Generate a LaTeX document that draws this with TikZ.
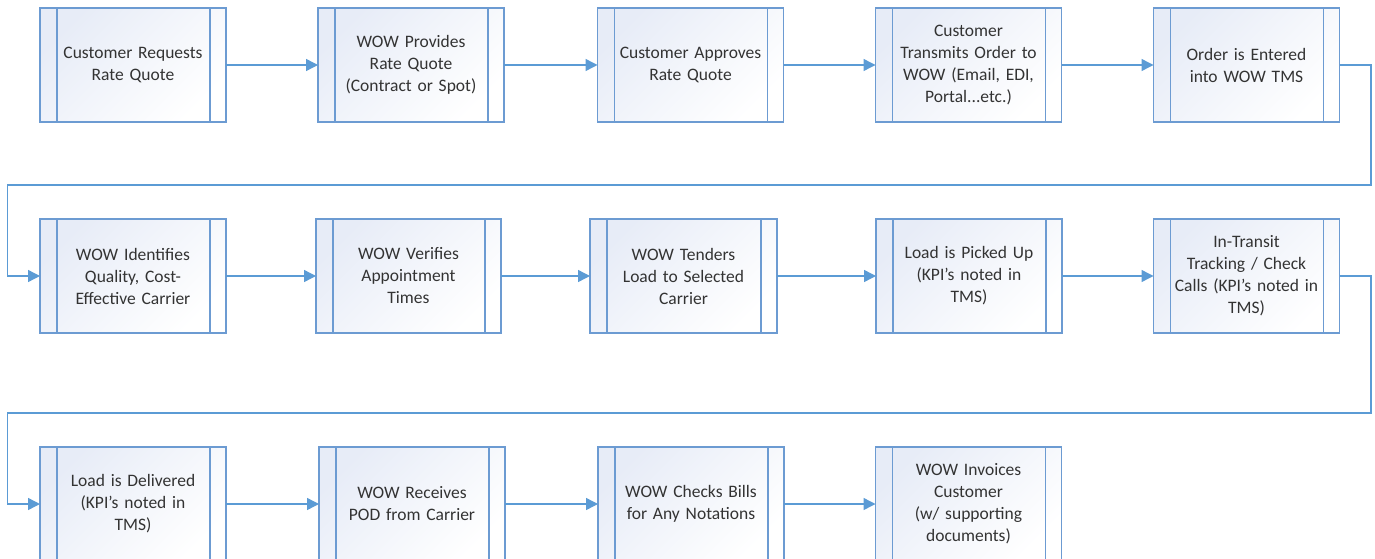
\documentclass[tikz,border=0pt]{standalone}
\usepackage{fontspec}
\setmainfont{Carlito}
\usetikzlibrary{arrows.meta}
\definecolor{boxline}{HTML}{6C9BD2}
\definecolor{arrowc}{HTML}{5B9BD5}
\definecolor{fillc}{HTML}{E7ECF7}
\definecolor{fillm}{HTML}{F8FAFD}
\definecolor{txt}{HTML}{333333}
\tikzset{
  procbox/.style={draw=boxline, line width=1.4pt, minimum width=186pt, minimum height=114pt,
    inner sep=0pt, outer sep=0pt, text width=160pt, align=center, text=txt,
    font=\fontsize{17.5pt}{22pt}\selectfont,
    top color=fillc, middle color=fillm, bottom color=white, shading angle=45,
    path picture={
      \draw[boxline, line width=1.4pt] ([xshift=17pt]path picture bounding box.north west) -- ([xshift=17pt]path picture bounding box.south west);
      \draw[boxline, line width=1.4pt] ([xshift=-16pt]path picture bounding box.north east) -- ([xshift=-16pt]path picture bounding box.south east);
    }},
  flow/.style={draw=arrowc, line width=1.4pt, -{Triangle[length=12pt,width=12pt,fill=arrowc]}}
}
\begin{document}
\begin{tikzpicture}[x=1pt,y=-1pt]
\useasboundingbox (0,0) rectangle (1375,559);
% row 1
\node[procbox] (b1) at (133,65) {Customer Requests\\Rate Quote};
\node[procbox] (b2) at (411,65) {WOW Provides\\Rate Quote\\(Contract or Spot)};
\node[procbox] (b3) at (690.5,65) {Customer Approves\\Rate Quote};
\node[procbox] (b4) at (968.5,65) {Customer\\Transmits Order to\\WOW (Email, EDI,\\Portal...etc.)};
\node[procbox] (b5) at (1246.5,65) {Order is Entered\\into WOW TMS};
% row 2
\node[procbox] (b6) at (133,276) {WOW Identifies\\Quality, Cost-\\Effective Carrier};
\node[procbox, minimum width=185pt] (b7) at (408.5,276) {WOW Verifies\\Appointment\\Times};
\node[procbox, minimum width=187pt] (b8) at (683.5,276) {WOW Tenders\\Load to Selected\\Carrier};
\node[procbox] (b9) at (969,276) {Load is Picked Up\\(KPI’s noted in\\TMS)};
\node[procbox] (b10) at (1246.5,276) {In-Transit\\Tracking / Check\\Calls (KPI’s noted in\\TMS)};
% row 3
\node[procbox] (b11) at (133,504) {Load is Delivered\\(KPI’s noted in\\TMS)};
\node[procbox] (b12) at (412,504) {WOW Receives\\POD from Carrier};
\node[procbox] (b13) at (691,504) {WOW Checks Bills\\for Any Notations};
\node[procbox] (b14) at (968.5,504) {WOW Invoices\\Customer\\(w/ supporting\\documents)};
% loop coordinates
\coordinate (r1) at (1371,185);
\coordinate (l1) at (7.5,185);
\coordinate (r2) at (1371,413);
\coordinate (l2) at (7.5,413);
% connectors
\draw[flow] (b1) -- (b2);
\draw[flow] (b2) -- (b3);
\draw[flow] (b3) -- (b4);
\draw[flow] (b4) -- (b5);
\draw[flow] (b5.east) -| (r1) -- (l1) |- (b6.west);
\draw[flow] (b6) -- (b7);
\draw[flow] (b7) -- (b8);
\draw[flow] (b8) -- (b9);
\draw[flow] (b9) -- (b10);
\draw[flow] (b10.east) -| (r2) -- (l2) |- (b11.west);
\draw[flow] (b11) -- (b12);
\draw[flow] (b12) -- (b13);
\draw[flow] (b13) -- (b14);
\end{tikzpicture}
\end{document}
